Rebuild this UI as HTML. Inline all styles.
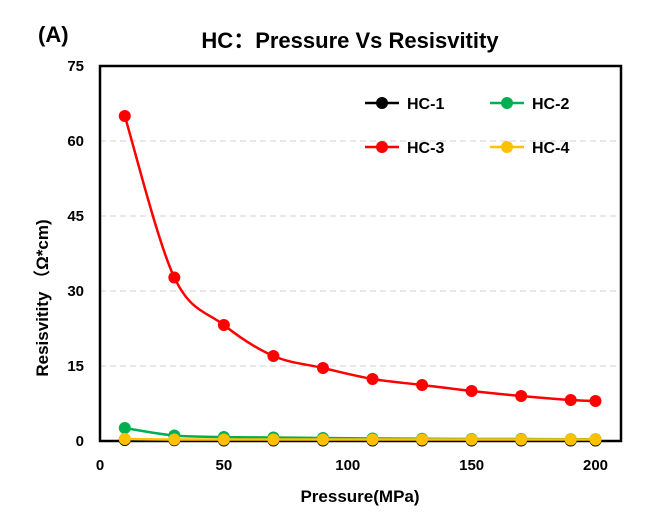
<!DOCTYPE html>
<html><head><meta charset="utf-8"><style>
body{margin:0;background:#fff;}
svg text{font-family:"Liberation Sans","Noto Sans CJK SC",sans-serif;font-weight:bold;fill:#000;}
</style></head><body>
<svg id="chart" width="661" height="521" xmlns="http://www.w3.org/2000/svg">
<text x="38" y="42" font-size="22">(A)</text>
<text x="350" y="48" font-size="22" text-anchor="middle">HC：Pressure Vs Resisvitity</text>
<g id="grid"></g>
<rect x="100" y="66" width="521" height="375" fill="none" stroke="#000" stroke-width="2.5"/>
<g id="ticks"></g>
<g id="series"></g>
<g id="legend"></g>
<text x="360" y="502" font-size="17" text-anchor="middle">Pressure(MPa)</text>
<text transform="translate(48,298) rotate(-90)" font-size="17" text-anchor="middle">Resisvitity （Ω*cm)</text>
</svg>
<script>
const pressures=[10,30,50,70,90,110,130,150,170,190,200];
const hc1=[0.2,0.15,0.1,0.1,0.1,0.1,0.1,0.1,0.1,0.1,0.1];
const hc2=[2.6,1.1,0.8,0.7,0.6,0.5,0.45,0.4,0.4,0.35,0.35];
const hc3=[65,32.7,23.2,17,14.6,12.4,11.2,10,9,8.2,8];
const hc4=[0.4,0.3,0.3,0.3,0.3,0.3,0.3,0.3,0.3,0.3,0.3];
const xTicks=[0,50,100,150,200];
const yTicks=[0,15,30,45,60,75];
const seriesNames=["HC-1","HC-2","HC-3","HC-4"];
const seriesColors=["#000000","#00b050","#ff0000","#ffc000"];
const NS="http://www.w3.org/2000/svg";
const X=v=>100+v*(495.5/200);
const Y=v=>441-v*5;
function mk(t,a,p){const e=document.createElementNS(NS,t);for(const k in a)e.setAttribute(k,a[k]);p.appendChild(e);return e;}
const grid=document.getElementById('grid'),ticks=document.getElementById('ticks');
yTicks.forEach(v=>{
 if(v>0&&v<75){const l=mk('line',{x1:100,x2:621,y1:Y(v),y2:Y(v),stroke:'#d0d0d0','stroke-width':1,'stroke-dasharray':'6,4'},grid);
 
 }
 const t=mk('text',{x:84,y:Y(v)+5,'font-size':15,'text-anchor':'end'},ticks);t.textContent=v;
 
 
});
xTicks.forEach(v=>{
 const t=mk('text',{x:X(v),y:470,'font-size':15,'text-anchor':'middle'},ticks);t.textContent=v;
 
 
});
function smooth(pts){let d=`M${pts[0][0]},${pts[0][1]}`;
 for(let i=0;i<pts.length-1;i++){const p0=pts[i-1]||pts[i],p1=pts[i],p2=pts[i+1],p3=pts[i+2]||p2;
 const c1=[p1[0]+(p2[0]-p0[0])/6,p1[1]+(p2[1]-p0[1])/6],c2=[p2[0]-(p3[0]-p1[0])/6,p2[1]-(p3[1]-p1[1])/6];
 d+=` C${c1[0]},${c1[1]} ${c2[0]},${c2[1]} ${p2[0]},${p2[1]}`;}return d;}
const sg=document.getElementById('series');
[hc1,hc2,hc4,hc3].forEach((vals)=>{
 const i=[hc1,hc2,hc3,hc4].indexOf(vals);const c=seriesColors[i];
 const g=mk('g',{},sg);
 
 
 const pts=pressures.map((p,j)=>[X(p),Y(vals[j])]);
 const path=mk('path',{d:smooth(pts),fill:'none',stroke:c,'stroke-width':2.5},g);
 
 
 pts.forEach(p=>{const m=mk('circle',{cx:p[0],cy:p[1],r:6,fill:c},g);
 
 });
});
const lg=document.getElementById('legend');
const pos=[[365,103],[490,103],[365,147],[490,147]];
seriesNames.forEach((n,i)=>{
 const g=mk('g',{},lg);
 
 
 const [x,y]=pos[i];
 mk('line',{x1:x,x2:x+34,y1:y,y2:y,stroke:seriesColors[i],'stroke-width':2.5},g);
 mk('circle',{cx:x+17,cy:y,r:6,fill:seriesColors[i]},g);
 const t=mk('text',{x:x+42,y:y+6,'font-size':16},g);t.textContent=n;
});
</script>
</body></html>
